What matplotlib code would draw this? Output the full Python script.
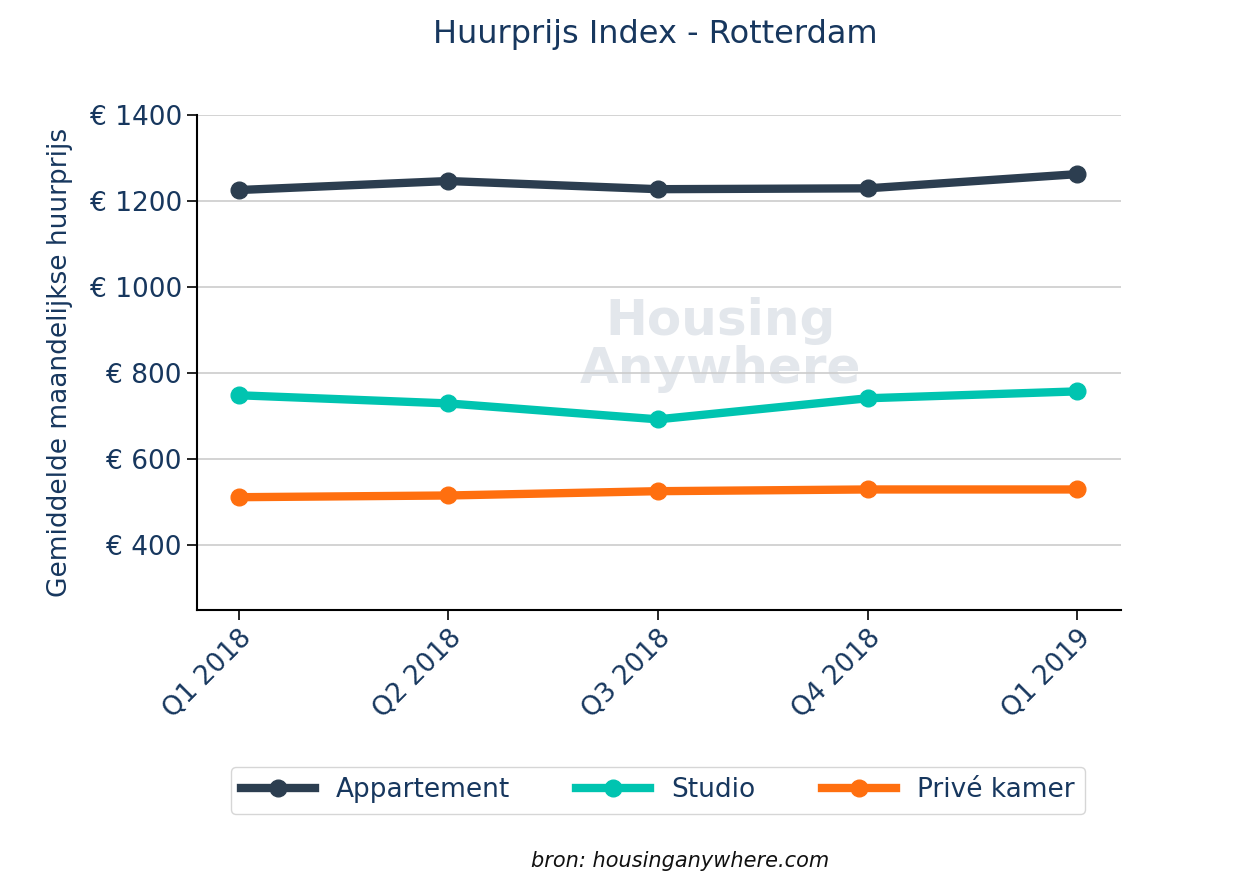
import matplotlib.pyplot as plt

quarters = ["Q1 2018", "Q2 2018", "Q3 2018", "Q4 2018", "Q1 2019"]
appartement = [1226, 1247, 1228, 1230, 1263]
studio = [749, 730, 693, 742, 758]
prive_kamer = [512, 516, 526, 530, 530]
yticks = [400, 600, 800, 1000, 1200, 1400]

navy = "#17375e"
fig = plt.figure(figsize=(12.6, 8.93), dpi=100)
ax = fig.add_axes([0.156, 0.317, 0.734, 0.554])

x = range(len(quarters))
ax.plot(x, appartement, color="#2c3e50", lw=6, marker="o", ms=12, label="Appartement")
ax.plot(x, studio, color="#00c4b0", lw=6, marker="o", ms=12, label="Studio")
ax.plot(x, prive_kamer, color="#ff6f0f", lw=6, marker="o", ms=12, label="Privé kamer")

# watermark
ax.text(2.3, 865, "Housing\nAnywhere", color="#e3e7ec", fontsize=36, fontweight="bold",
        ha="center", va="center", linespacing=1.0, zorder=0)

ax.set_xlim(-0.2, 4.21)
ax.set_ylim(250, 1400)
ax.set_yticks(yticks)
ax.set_yticklabels([f"€ {v}" for v in yticks], fontsize=19, color=navy)
ax.set_xticks(list(x))
ax.set_xticklabels(quarters, rotation=45, ha="right", rotation_mode="anchor",
                   fontsize=19, color=navy)
ax.tick_params(length=7, width=1.2)
ax.grid(axis="y", color="#cccccc", lw=1.2)
ax.set_axisbelow(True)
for s in ["top", "right"]:
    ax.spines[s].set_visible(False)
for s in ["left", "bottom"]:
    ax.spines[s].set_linewidth(1.5)
ax.set_ylabel("Gemiddelde maandelijkse huurprijs", fontsize=19, color=navy, labelpad=12)

fig.text(0.52, 0.961, "Huurprijs Index - Rotterdam", ha="center", va="center",
         fontsize=23, color=navy)
leg = fig.legend(loc="center", bbox_to_anchor=(0.522, 0.115), ncol=3, fontsize=19,
                 handlelength=2.8, columnspacing=2.5, frameon=True, edgecolor="#cccccc")
for t in leg.get_texts():
    t.set_color(navy)
fig.text(0.54, 0.036, "bron: housinganywhere.com", ha="center", va="center",
         fontsize=15, style="italic", color="#111111")

fig.savefig("out.png", dpi=100)
